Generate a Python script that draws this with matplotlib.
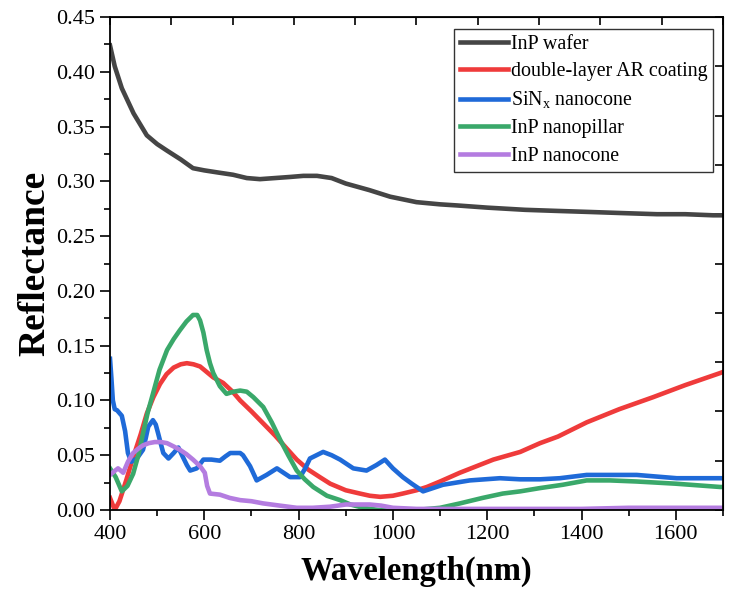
import matplotlib
matplotlib.use('Agg')
import matplotlib.pyplot as plt
import numpy as np
from matplotlib.ticker import MultipleLocator

plt.rcParams['font.family'] = 'Liberation Serif'
plt.rcParams['mathtext.fontset'] = 'custom'
plt.rcParams['mathtext.rm'] = 'Liberation Serif'

# InP wafer
wl_wafer = [400, 410, 425, 450, 478, 500, 521, 550, 576, 600, 630, 661, 690, 718, 750, 782, 810, 839,
            870, 900, 950, 994, 1050, 1100, 1136, 1200, 1280, 1348, 1420, 1488, 1560, 1620, 1679, 1700]
r_wafer = [0.424, 0.405, 0.385, 0.362, 0.342, 0.334, 0.328, 0.320, 0.312, 0.310, 0.308, 0.306, 0.303,
           0.302, 0.303, 0.304, 0.305, 0.305, 0.303, 0.298, 0.292, 0.286, 0.281, 0.279, 0.278, 0.276,
           0.274, 0.273, 0.272, 0.271, 0.270, 0.270, 0.269, 0.269]

# double-layer AR coating
wl_arc = [400, 410, 420, 435, 449, 465, 478, 492, 506, 520, 535, 550, 563, 577, 591, 605, 619, 640, 660,
          676, 700, 725, 750, 775, 796, 820, 845, 867, 900, 930, 951, 973, 1000, 1021, 1050, 1072, 1100,
          1142, 1213, 1270, 1312, 1350, 1411, 1480, 1552, 1620, 1694, 1700]
r_arc = [0.011, 0.0, 0.008, 0.028, 0.048, 0.069, 0.088, 0.103, 0.115, 0.124, 0.130, 0.133, 0.134, 0.133,
         0.131, 0.126, 0.121, 0.116, 0.108, 0.100, 0.090, 0.079, 0.068, 0.056, 0.046, 0.037, 0.030, 0.024,
         0.018, 0.015, 0.013, 0.012, 0.013, 0.015, 0.018, 0.021, 0.026, 0.034, 0.046, 0.053, 0.061, 0.067,
         0.080, 0.092, 0.103, 0.114, 0.125, 0.126]

# SiNx nanocone
wl_sin = [400, 403, 406, 410, 415, 425, 432, 438, 445, 457, 470, 476, 481, 491, 497, 502, 508, 513, 524,
          535, 545, 555, 563, 570, 584, 598, 615, 633, 645, 655, 676, 682, 697, 711, 732, 754, 768, 782,
          803, 814, 824, 838, 852, 870, 888, 916, 944, 965, 983, 1000, 1021, 1040, 1064, 1085, 1106, 1163,
          1227, 1270, 1312, 1354, 1411, 1517, 1602, 1694, 1700]
r_sin = [0.138, 0.120, 0.100, 0.092, 0.091, 0.086, 0.072, 0.052, 0.044, 0.047, 0.055, 0.066, 0.076, 0.082,
         0.078, 0.070, 0.060, 0.052, 0.047, 0.052, 0.057, 0.048, 0.041, 0.036, 0.038, 0.046, 0.046, 0.045,
         0.049, 0.052, 0.052, 0.050, 0.040, 0.027, 0.032, 0.038, 0.034, 0.030, 0.030, 0.038, 0.047, 0.050,
         0.053, 0.050, 0.046, 0.038, 0.036, 0.041, 0.046, 0.038, 0.030, 0.024, 0.017, 0.020, 0.023, 0.027,
         0.029, 0.028, 0.028, 0.029, 0.032, 0.032, 0.029, 0.029, 0.029]

# InP nanopillar
wl_pillar = [400, 412, 425, 437, 449, 460, 470, 480, 491, 505, 521, 535, 548, 562, 576, 585, 591, 598, 605,
             612, 619, 633, 647, 662, 676, 690, 704, 725, 743, 761, 778, 796, 813, 831, 860, 888, 910, 937,
             970, 1000, 1050, 1100, 1142, 1190, 1233, 1270, 1312, 1360, 1411, 1460, 1517, 1600, 1694, 1700]
r_pillar = [0.038, 0.030, 0.017, 0.022, 0.033, 0.050, 0.070, 0.089, 0.106, 0.128, 0.146, 0.156, 0.164,
            0.172, 0.178, 0.178, 0.173, 0.162, 0.146, 0.134, 0.125, 0.113, 0.106, 0.108, 0.109, 0.108,
            0.103, 0.094, 0.080, 0.064, 0.050, 0.036, 0.028, 0.021, 0.013, 0.009, 0.005, 0.002, 0.0, 0.0,
            0.0, 0.002, 0.006, 0.011, 0.015, 0.017, 0.020, 0.023, 0.027, 0.027, 0.026, 0.024, 0.021, 0.021]

# InP nanocone
wl_cone = [400, 408, 417, 428, 438, 449, 460, 470, 482, 495, 508, 521, 535, 548, 562, 576, 591, 601, 606,
           612, 633, 654, 676, 700, 725, 760, 796, 830, 867, 900, 930, 951, 975, 1000, 1050, 1100, 1200,
           1300, 1400, 1500, 1600, 1700]
r_cone = [0.032, 0.035, 0.038, 0.034, 0.044, 0.052, 0.056, 0.059, 0.061, 0.062, 0.062, 0.061, 0.058, 0.055,
          0.051, 0.046, 0.040, 0.034, 0.022, 0.015, 0.014, 0.011, 0.009, 0.008, 0.006, 0.004, 0.002, 0.002,
          0.003, 0.005, 0.005, 0.005, 0.004, 0.002, 0.001, 0.001, 0.001, 0.001, 0.001, 0.002, 0.002, 0.002]

series = [
    (wl_wafer, r_wafer, '#454545', 'InP wafer'),
    (wl_arc, r_arc, '#ef3b3b', 'double-layer AR coating'),
    (wl_sin, r_sin, '#1f6ad8', r'SiN$_\mathregular{x}$ nanocone'),
    (wl_pillar, r_pillar, '#3aa86a', 'InP nanopillar'),
    (wl_cone, r_cone, '#b47ce0', 'InP nanocone'),
]

fig = plt.figure(figsize=(7.31, 5.99), dpi=100)
ax = fig.add_axes([0.1505, 0.1486, 0.8385, 0.823])

for wl, r, c, lab in series:
    ax.plot(wl, r, color=c, lw=3.3, label=lab)

ax.set_xlim(400, 1700)
ax.set_ylim(0, 0.45)
ax.xaxis.set_major_locator(MultipleLocator(200))
ax.xaxis.set_minor_locator(MultipleLocator(100))
ax.yaxis.set_major_locator(MultipleLocator(0.05))
ax.yaxis.set_minor_locator(MultipleLocator(0.025))
ax.yaxis.set_major_formatter(matplotlib.ticker.FormatStrFormatter('%.2f'))
ax.tick_params(which='major', direction='out', length=7, width=1.2, labelsize=16)
ax.tick_params(which='minor', direction='out', length=4, width=1.2)
for s in ax.spines.values():
    s.set_linewidth(1.3)

# mirror axes (Origin style) with their own 10 divisions, ticks inward
top = ax.secondary_xaxis('top')
top.set_xticks(np.linspace(400, 1700, 11))
top.set_xticklabels([])
top.tick_params(direction='in', length=6, width=1.2)
right = ax.secondary_yaxis('right')
right.set_yticks(np.linspace(0, 0.45, 11))
right.set_yticklabels([])
right.tick_params(direction='in', length=6, width=1.2)

ax.set_xlabel('Wavelength(nm)', fontsize=23.5, fontweight='bold', labelpad=9)
ax.set_ylabel('Reflectance', fontsize=27, fontweight='bold', labelpad=3)

leg = ax.legend(loc='upper right', bbox_to_anchor=(0.984, 0.976), fontsize=14.4, frameon=True,
                fancybox=False, edgecolor='black', handlelength=2.4, handletextpad=0.12,
                labelspacing=0.42, borderpad=0.3, borderaxespad=0)
leg.get_frame().set_linewidth(1.0)

fig.savefig('out.png', dpi=100)
